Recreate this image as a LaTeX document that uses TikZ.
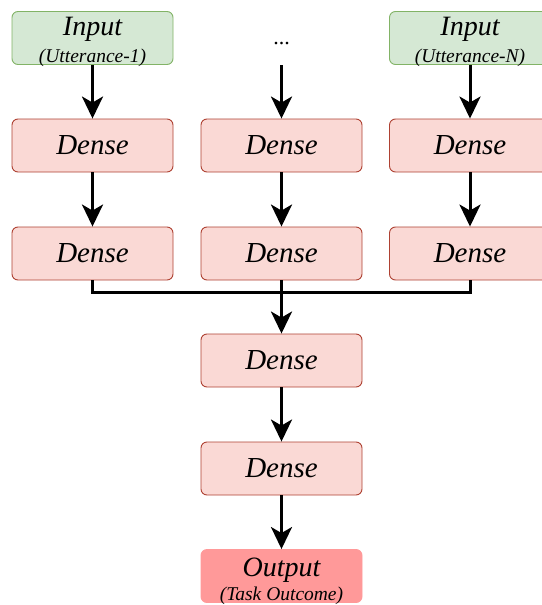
\documentclass[tikz,border=0pt]{standalone}
\usepackage{fontspec}
\setmainfont{Liberation Serif}
\usetikzlibrary{arrows.meta}
\definecolor{densefill}{HTML}{FAD9D5}
\definecolor{densedraw}{HTML}{AE4132}
\definecolor{infill}{HTML}{D5E8D4}
\definecolor{indraw}{HTML}{82B366}
\definecolor{outfill}{HTML}{FF9999}
\tikzset{
  box/.style={rectangle, rounded corners=6pt, minimum width=161pt, minimum height=53pt,
    inner sep=0pt, line width=0.9pt},
  densebox/.style={box, fill=densefill, draw=densedraw,
    font=\fontsize{29}{32}\selectfont\itshape},
  inbox/.style={box, fill=infill, draw=indraw},
  outbox/.style={box, fill=outfill, draw=outfill},
  title/.style={anchor=base, inner sep=0pt, font=\fontsize{28}{32}\selectfont\itshape},
  subtitle/.style={anchor=base, inner sep=0pt, font=\fontsize{19.5}{22}\selectfont\itshape},
  flow/.style={line width=3pt, -{Stealth[length=22pt,width=21pt,inset=6pt]}},
  wire/.style={line width=3pt},
}
\begin{document}
\begin{tikzpicture}[x=1pt,y=-1pt]
\useasboundingbox (0,0) rectangle (541,605);

% input boxes
\node[inbox] (in1) at (92.5,38) {};
\node[title] (in1t) at (92.5,35) {Input};
\node[subtitle] (in1s) at (92.5,62) {(Utterance-1)};
\node[inbox] (inN) at (470,38) {};
\node[title] (inNt) at (470,35) {Input};
\node[subtitle] (inNs) at (470,62) {(Utterance-N)};
\node[inner sep=0pt, font=\fontsize{22}{26}\selectfont] (dots) at (281.5,44) {...};
\coordinate (dotsb) at (281.5,65);

% three parallel columns of two dense layers
\node[densebox] (d11) at (92.5,145.5) {Dense};
\node[densebox] (d21) at (281.5,145.5) {Dense};
\node[densebox] (d31) at (470,145.5) {Dense};
\node[densebox] (d12) at (92.5,253.5) {Dense};
\node[densebox] (d22) at (281.5,253.5) {Dense};
\node[densebox] (d32) at (470,253.5) {Dense};

% shared layers
\node[densebox] (s1) at (281.5,360.5) {Dense};
\node[densebox] (s2) at (281.5,468.5) {Dense};
\node[outbox] (out) at (281.5,576) {};
\node[title] (outt) at (281.5,576) {Output};
\node[subtitle] (outs) at (281.5,600) {(Task Outcome)};

% column arrows
\draw[flow] (in1.south) -- (d11.north);
\draw[flow] (dotsb) -- (d21.north);
\draw[flow] (inN.south) -- (d31.north);
\draw[flow] (d11.south) -- (d12.north);
\draw[flow] (d21.south) -- (d22.north);
\draw[flow] (d31.south) -- (d32.north);

% merge bus
\coordinate (bus) at (281.5,292.5);
\draw[wire] (d12.south) |- (bus) -| (d32.south);
\draw[wire] (d22.south) -- (bus);
\draw[flow] (bus) -- (s1.north);
\draw[flow] (s1.south) -- (s2.north);
\draw[flow] (s2.south) -- (out.north);
\end{tikzpicture}
\end{document}
